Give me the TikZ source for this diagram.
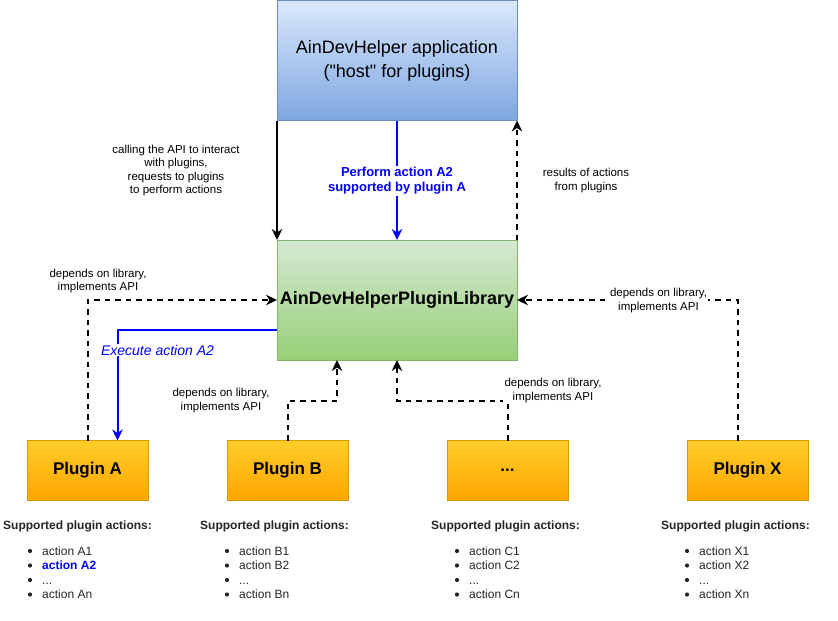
\documentclass[tikz,border=0pt]{standalone}
\usepackage{fontspec}
\setmainfont{Liberation Sans}[Ligatures=TeXOff]
\usetikzlibrary{arrows.meta}
\definecolor{apptop}{HTML}{DAE8FC}
\definecolor{appbot}{HTML}{7EA6E0}
\definecolor{appstroke}{HTML}{6C8EBF}
\definecolor{libtop}{HTML}{D5E8D4}
\definecolor{libbot}{HTML}{97D077}
\definecolor{libstroke}{HTML}{82B366}
\definecolor{plugtop}{HTML}{FFCD28}
\definecolor{plugbot}{HTML}{FFA500}
\definecolor{plugstroke}{HTML}{D79B00}
\definecolor{actblue}{HTML}{0000FF}
\definecolor{listgray}{HTML}{262626}
\begin{document}
\begin{tikzpicture}[x=1pt,y=-1pt,
  bigbox/.style={draw,line width=1pt,outer sep=0pt,inner sep=0pt,minimum width=240pt,minimum height=120pt,align=center},
  appbox/.style={bigbox,draw=appstroke,top color=apptop,bottom color=appbot,font=\fontsize{18}{24}\selectfont},
  libbox/.style={bigbox,draw=libstroke,top color=libtop,bottom color=libbot,font=\bfseries\fontsize{18}{22}\selectfont},
  plugbox/.style={draw=plugstroke,line width=1pt,outer sep=0pt,inner sep=0pt,minimum width=121pt,minimum height=60pt,top color=plugtop,bottom color=plugbot,font=\bfseries\fontsize{17}{20}\selectfont},
  conn/.style={line width=2pt,-{Stealth[length=11pt,width=10.5pt,inset=3.5pt]}},
  dep/.style={conn,dash pattern=on 5.5pt off 5pt},
  bluec/.style={conn,draw=actblue,-{Stealth[length=11pt,width=10.5pt,inset=3.5pt,fill=actblue]}},
  lbl/.style={font=\fontsize{11.5}{13.4}\selectfont,align=center,inner sep=1.5pt,fill=white},
  bluelbl/.style={lbl,text=actblue,font=\bfseries\fontsize{13}{15.3}\selectfont},
  hdr/.style={anchor=base west,inner sep=0pt,font=\bfseries\fontsize{12}{14}\selectfont,text=listgray},
  item/.style={anchor=base west,inner sep=0pt,font=\fontsize{12}{14}\selectfont,text=listgray},
]
\useasboundingbox[fill=white] (0,0) rectangle (838,621);

% boxes
\node[appbox] (app) at (397,60.5) {AinDevHelper application\\("host" for plugins)};
\node[libbox] (lib) at (397,300) {AinDevHelperPluginLibrary};
\node[plugbox] (pA) at (87.5,470.5) {Plugin A};
\node[plugbox] (pB) at (287.5,470.5) {Plugin B};
\node[plugbox] (pC) at (507.5,470.5) {...};
\node[plugbox] (pX) at (747.5,470.5) {Plugin X};

% labels
\node[lbl,fill=none] (lcall) at (176,170.5) {calling the API to interact\\with plugins,\\requests to plugins\\to perform actions};
\node[lbl,fill=none] (lres) at (586,180.5) {results of actions\\from plugins};
\node[lbl,fill=none] (lA) at (98,281) {depends on library,\\implements API};
\node[lbl] (lB) at (221,400.5) {depends on library,\\implements API};
\node[lbl] (lC) at (553,390.5) {depends on library,\\implements API};
\node[lbl] (lX) at (658.5,300.5) {depends on library,\\implements API};

% connectors
\draw[conn] (app.south west) -- (lib.north west);
\draw[dep] (lib.north east) -- (app.south east);
\draw[dep] (pA.north) |- (lib.west);
\draw[dep] (pB.north) -- ++(0,-40) -| ([xshift=-60pt]lib.south);
\draw[dep] (pC.north) -- ++(0,-40) -| (lib.south);
\draw[dep] ([xshift=-10pt]pX.north) |- (lib.east);
\draw[bluec] (app.south) -- (lib.north);
\draw[bluec] ([yshift=-30pt]lib.west) -| ([xshift=30pt]pA.north);

% labels over lines
\node[lbl] at (lX) {depends on library,\\implements API};
\node[lbl] at (lC) {depends on library,\\implements API};
\node[bluelbl] (lperf) at (397,181) {Perform action A2\\supported by plugin A};
\node[lbl,text=actblue,font=\itshape\fontsize{14}{16}\selectfont,inner sep=1pt] (lexec) at (157.5,350) {Execute action A2};

% lists
\node[hdr] (hA) at (3,529.3) {Supported plugin actions:};
\node[hdr] (hB) at (200,529.3) {Supported plugin actions:};
\node[hdr] (hC) at (431,529.3) {Supported plugin actions:};
\node[hdr] (hX) at (661,529.3) {Supported plugin actions:};

\foreach \bx/\L in {30/A,227/B,457/C,687/X}{
  \foreach \yy in {551,565.5,580,594.5}{
    \fill[listgray] (\bx,\yy) circle (2.1pt);
  }
}
\node[item] (a1) at (42,555.3) {action A1};
\node[item,text=actblue,font=\bfseries\fontsize{12}{14}\selectfont] (a2) at (42,569.8) {action A2};
\node[item] (a3) at (42,584.3) {...};
\node[item] (a4) at (42,598.8) {action An};
\node[item] (b1) at (239,555.3) {action B1};
\node[item] (b2) at (239,569.8) {action B2};
\node[item] (b3) at (239,584.3) {...};
\node[item] (b4) at (239,598.8) {action Bn};
\node[item] (c1) at (469,555.3) {action C1};
\node[item] (c2) at (469,569.8) {action C2};
\node[item] (c3) at (469,584.3) {...};
\node[item] (c4) at (469,598.8) {action Cn};
\node[item] (x1) at (699,555.3) {action X1};
\node[item] (x2) at (699,569.8) {action X2};
\node[item] (x3) at (699,584.3) {...};
\node[item] (x4) at (699,598.8) {action Xn};
\end{tikzpicture}
\end{document}
